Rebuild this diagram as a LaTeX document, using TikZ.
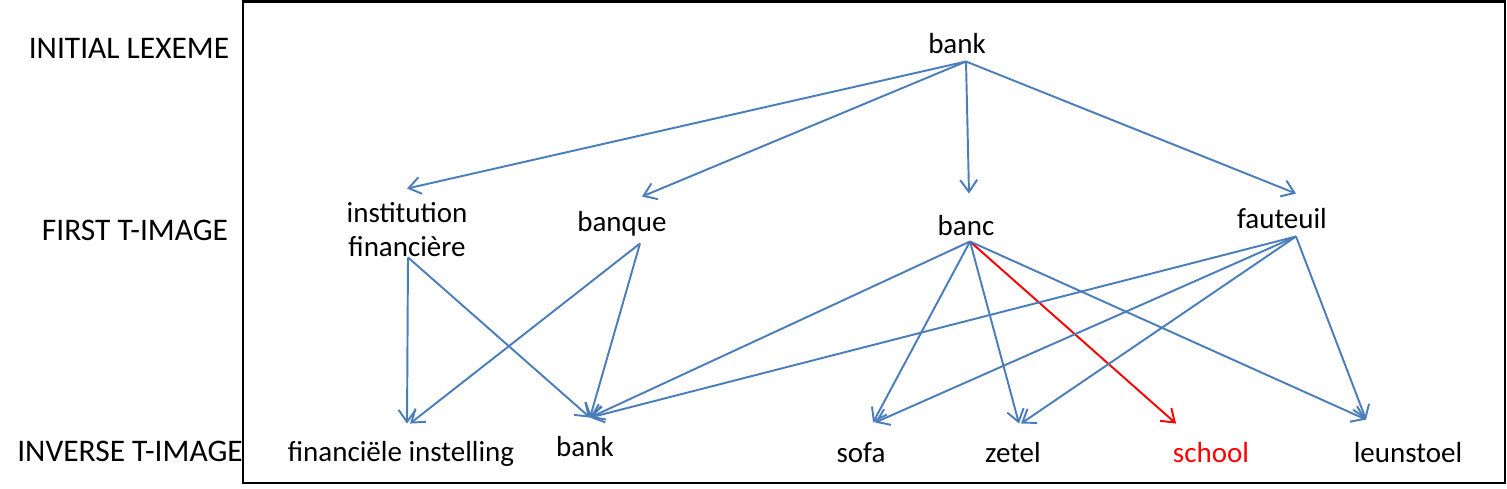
\documentclass[tikz,border=0pt]{standalone}
\usepackage{fontspec}
\setmainfont{Carlito}
\usepackage{tikz}
\usetikzlibrary{arrows.meta, calc}
\definecolor{cLink}{RGB}{74,126,187}
\definecolor{cWrong}{RGB}{255,0,0}
\newcommand{\lexfont}{\fontsize{16.5}{19.3}\selectfont}
\newcommand{\lvlfont}{\fontsize{17.9}{21}\selectfont}
\tikzset{
	lexeme/.style  ={font=\lexfont, inner sep=0pt, text height=12pt, text depth=3.5pt, anchor=base},
	multilex/.style={font=\lexfont, inner sep=0pt, align=center},
	rowlabel/.style={font=\lvlfont, inner sep=0pt, anchor=base},
	trans/.style   ={-{Straight Barb[length=2.4mm, width=3.4mm]}, line width=1.1pt, draw=cLink},
	wrong/.style   ={trans, draw=cWrong},
}
\begin{document}
\begin{tikzpicture}[x=0.02cm, y=-0.02cm]
	\useasboundingbox (0,0) rectangle (1507,489);
	\draw[line width=1.5pt] (243,1.5) rectangle (1505,483);
	% row labels
	\node[rowlabel] (lvl0) at (129,59)  {INITIAL LEXEME};
	\node[rowlabel] (lvl1) at (135,241) {FIRST T-IMAGE};
	\node[rowlabel] (lvl2) at (130,461) {INVERSE T-IMAGE};
	% lexemes
	\node[lexeme] (bank0) at (957,54) {bank};
	\node[multilex] (inst) at (407,230) {institution\\financière};
	\node[lexeme] (banque) at (622,232) {banque};
	\node[lexeme] (banc) at (966,236) {banc};
	\node[lexeme] (fauteuil) at (1282,229) {fauteuil};
	\node[lexeme] (finst) at (401,461) {financiële instelling};
	\node[lexeme] (bank1) at (585,456) {bank};
	\node[lexeme] (sofa) at (861,462) {sofa};
	\node[lexeme] (zetel) at (1013,462) {zetel};
	\node[lexeme, text=cWrong] (school) at (1211,462) {school};
	\node[lexeme] (leun) at (1408,462) {leunstoel};
	% first translation
	\draw[trans] ($(bank0.south)+(9,1)$) -- ($(inst.north)+(0,-14)$);
	\draw[trans] ($(bank0.south)+(9,1)$) -- ($(banque.north)+(20,-14)$);
	\draw[trans] ($(bank0.south)+(9,1)$) -- ($(banc.north)+(3,-21)$);
	\draw[trans] ($(bank0.south)+(9,1)$) -- ($(fauteuil.north)+(14,-14)$);
	% inverse translation
	\draw[trans] ($(inst.south)+(1,0)$) -- ($(finst.north)+(6,-16)$);
	\draw[trans] ($(inst.south)+(1,0)$) -- ($(bank1.north)+(5,-17)$);
	\draw[trans] ($(banque.south)+(18,5)$) -- ($(finst.north)+(9,-16)$);
	\draw[trans] ($(banque.south)+(18,5)$) -- ($(bank1.north)+(5,-17)$);
	\draw[trans] ($(banc.south)+(4,-1)$) -- ($(bank1.north)+(5,-17)$);
	\draw[trans] ($(banc.south)+(4,-1)$) -- ($(sofa.north)+(12,-18)$);
	\draw[trans] ($(banc.south)+(4,-1)$) -- ($(zetel.north)+(6,-17)$);
	\draw[wrong] ($(banc.south)+(4,-1)$) -- ($(school.north)+(-35,-17)$);
	\draw[trans] ($(banc.south)+(4,-1)$) -- ($(leun.north)+(-42,-21)$);
	\draw[trans] ($(fauteuil.south)+(14,1)$) -- ($(bank1.north)+(5,-17)$);
	\draw[trans] ($(fauteuil.south)+(14,1)$) -- ($(sofa.north)+(14,-18)$);
	\draw[trans] ($(fauteuil.south)+(14,1)$) -- ($(zetel.north)+(8,-17)$);
	\draw[trans] ($(fauteuil.south)+(14,1)$) -- ($(leun.north)+(-42,-21)$);
\end{tikzpicture}
\end{document}
